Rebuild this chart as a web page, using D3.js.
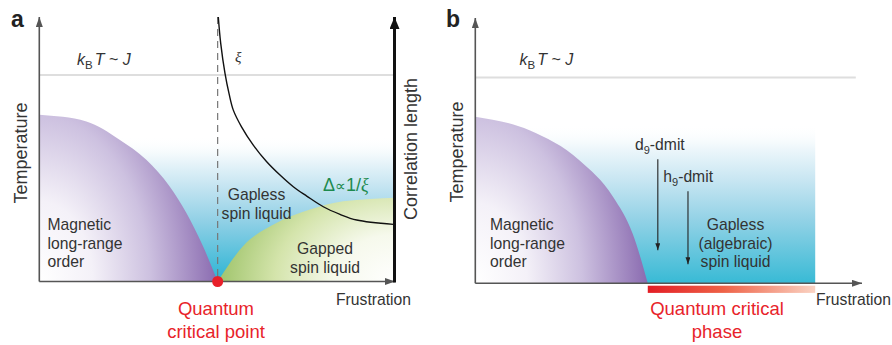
<!DOCTYPE html>
<html>
<head>
<meta charset="utf-8">
<script src="https://cdn.jsdelivr.net/npm/d3@7"></script>
<style>
  html, body { margin: 0; padding: 0; background: #fff; }
  svg { display: block; font-family: "Liberation Sans", Arial, Helvetica, sans-serif; }
</style>
</head>
<body>
<div id="chart"></div>
<script>
// Schematic phase diagrams, both panels in 0-100 units (frustration, temperature)

// panel a
const aMagnetic = [[0, 63], [13.2, 60.5], [22.5, 53.6], [30, 46], [36.5, 36], [41.2, 26], [45.9, 13.3], [50, 0]];
const aGapped = [[50, 0], [57.1, 13.3], [66.6, 22.2], [75.9, 27.2], [85.2, 30.3], [100, 31.7]];
const aCorrelation = [[50.18, 100], [50.86, 90], [52.06, 78.66], [53.18, 71.1], [54.39, 64.79], [56.69, 58.48],
  [59.99, 51.57], [63.75, 45.26], [67.48, 40.23], [71.21, 35.81], [74.97, 32.3], [79.62, 28.26],
  [84.3, 25.39], [88.98, 23.23], [99.24, 21.61]];
const aCritical = 50;
const aThermal = 78.1;
const aLiquidTop = 55;

// panel b
const bMagnetic = [[0, 62.8], [14, 57.7], [26.9, 46.4], [35.6, 32.6], [40.7, 18.7], [44.6, 0]];
const bCriticalPhase = [44.6, 87.9];
const bThermal = 77.6;
const bLiquidTop = 60;
const bSamples = [
  { name: "d", x: 47.2, from: 46.8, to: 12.5 },
  { name: "h", x: 55.0, from: 34.7, to: 7.2 }
];

const width = 892, height = 345;
const ink = "#333";

const svg = d3.select("#chart").append("svg")
  .attr("width", width)
  .attr("height", height);

const defs = svg.append("defs");

function arrowMarker(id, color, w, l) {
  defs.append("marker")
    .attr("id", id)
    .attr("viewBox", `0 ${-w / 2} ${l} ${w}`)
    .attr("refX", l).attr("refY", 0)
    .attr("markerUnits", "userSpaceOnUse")
    .attr("markerWidth", l).attr("markerHeight", w)
    .attr("orient", "auto")
    .append("path")
    .attr("d", `M0,${-w / 2}L${l},0L0,${w / 2}Z`)
    .attr("fill", color);
}
arrowMarker("axisArrow", "#555", 7, 10);
arrowMarker("boldArrow", "#111", 10, 12);
arrowMarker("smallArrow", "#222", 5, 7);

function linear(id, stops, vertical) {
  const g = defs.append("linearGradient").attr("id", id)
    .attr("x1", 0).attr("y1", 0)
    .attr("x2", vertical ? 0 : 1).attr("y2", vertical ? 1 : 0);
  stops.forEach(s => g.append("stop").attr("offset", s[0]).attr("stop-color", s[1]).attr("stop-opacity", s[2] == null ? 1 : s[2]));
}
function radial(id, cx, cy, rx, ry, stops) {
  const g = defs.append("radialGradient").attr("id", id)
    .attr("gradientUnits", "userSpaceOnUse")
    .attr("cx", 0).attr("cy", 0).attr("r", 1)
    .attr("gradientTransform", `translate(${cx},${cy}) scale(${rx},${ry})`);
  stops.forEach(s => g.append("stop").attr("offset", s[0]).attr("stop-color", s[1]));
}

linear("blueA", [[0, "#ffffff", 0], [0.15, "#eef7fb"], [0.35, "#c4e4f1"], [0.6, "#8dcfe5"], [1, "#2bb4d4"]], true);
linear("blueB", [[0, "#ffffff", 0], [0.15, "#eef7fb"], [0.35, "#c8e6f2"], [0.6, "#93d2e6"], [1, "#38bad5"]], true);
linear("redBar", [[0, "#e31d25"], [0.45, "#ee6247"], [1, "#fad3c3"]], false);

function panel(opts) {
  const x = d3.scaleLinear().domain([0, 100]).range(opts.xRange);
  const y = d3.scaleLinear().domain([0, 100]).range(opts.yRange);
  const g = svg.append("g");
  return { x, y, g };
}

function addText(g, str, px, py, size, opts = {}) {
  return g.append("text")
    .attr("x", px).attr("y", py)
    .attr("font-size", size)
    .attr("fill", opts.fill || ink)
    .attr("text-anchor", opts.anchor || "start")
    .attr("font-weight", opts.weight || "normal")
    .attr("font-style", opts.style || "normal")
    .text(str);
}

function thermalLabel(g, px, py) {
  const t = g.append("text").attr("x", px).attr("y", py)
    .attr("font-size", 16).attr("fill", ink);
  t.append("tspan").attr("font-style", "italic").text("k");
  t.append("tspan").attr("font-size", 11.5).attr("dy", 4).text("B");
  t.append("tspan").attr("font-style", "italic").attr("dy", -4).attr("dx", 2).text("T");
  t.append("tspan").text(" ~ ");
  t.append("tspan").attr("font-style", "italic").text("J");
}

function rotated(g, str, px, py, size) {
  g.append("text")
    .attr("transform", `translate(${px},${py}) rotate(-90)`)
    .attr("text-anchor", "middle")
    .attr("font-size", size)
    .attr("fill", ink)
    .text(str);
}

function multiline(g, lines, px, py, size, lh, anchor, fill) {
  lines.forEach((l, i) => addText(g, l, px, py + i * lh, size, { anchor, fill }));
}

// ---------- panel a ----------
{
  const { x, y, g } = panel({ xRange: [39.3, 396], yRange: [281.5, 17] });

  const x0 = x(0), x1 = x(100), yb = y(0);

  // gapless liquid background
  g.append("rect")
    .attr("x", x0).attr("y", y(aLiquidTop))
    .attr("width", x1 - x0).attr("height", yb - y(aLiquidTop))
    .attr("fill", "url(#blueA)");

  // magnetic order dome
  radial("purpleA", x0, yb, x(aCritical) - x0, (yb - y(aMagnetic[0][1])) * 1.6,
    [[0, "#ffffff"], [0.3, "#f4f1f8"], [0.62, "#cdc1e0"], [1, "#8a6bb0"]]);
  const area = d3.area().x(d => x(d[0])).y0(yb).y1(d => y(d[1])).curve(d3.curveMonotoneX);
  g.append("path").datum(aMagnetic).attr("d", area).attr("fill", "url(#purpleA)");

  // gapped liquid
  radial("greenA", x1, yb, x1 - x(aCritical), (yb - y(aGapped[aGapped.length - 1][1])) * 1.6,
    [[0, "#ffffff"], [0.35, "#f6f9ec"], [0.68, "#d4e4ab"], [1, "#9fc46b"]]);
  g.append("path").datum(aGapped).attr("d", area).attr("fill", "url(#greenA)");

  // thermal line
  g.append("line")
    .attr("x1", x0).attr("x2", x1)
    .attr("y1", y(aThermal)).attr("y2", y(aThermal))
    .attr("stroke", "#dedede").attr("stroke-width", 2);

  // dashed critical line
  g.append("line")
    .attr("x1", x(aCritical)).attr("x2", x(aCritical))
    .attr("y1", y(100)).attr("y2", yb)
    .attr("stroke", "#777").attr("stroke-width", 1.2)
    .attr("stroke-dasharray", "7,5");

  // correlation length curve
  g.append("path").datum(aCorrelation)
    .attr("d", d3.line().x(d => x(d[0])).y(d => y(d[1])).curve(d3.curveCatmullRom.alpha(0.5)))
    .attr("fill", "none").attr("stroke", "#111").attr("stroke-width", 1.4);

  // axes
  g.append("line").attr("x1", x0).attr("x2", x0).attr("y1", yb).attr("y2", y(100))
    .attr("stroke", "#555").attr("stroke-width", 1.6).attr("marker-end", "url(#axisArrow)");
  g.append("line").attr("x1", x0).attr("x2", x1 - 1).attr("y1", yb).attr("y2", yb)
    .attr("stroke", "#555").attr("stroke-width", 1.6).attr("marker-end", "url(#axisArrow)");
  g.append("line").attr("x1", x1 - 1.5).attr("x2", x1 - 1.5).attr("y1", yb + 1).attr("y2", y(100))
    .attr("stroke", "#111").attr("stroke-width", 3).attr("marker-end", "url(#boldArrow)");

  // critical point
  g.append("circle").attr("cx", x(aCritical)).attr("cy", yb).attr("r", 5.5).attr("fill", "#e8202a");

  // labels
  addText(g, "a", 11, 27, 23, { weight: "bold", fill: "#222" });
  thermalLabel(g, 77, 65);
  g.append("text").attr("x", 235).attr("y", 62).attr("font-size", 15)
    .attr("font-family", "'Liberation Serif', serif").attr("font-style", "italic")
    .attr("fill", ink).text("ξ");
  rotated(g, "Temperature", 27, 153, 18);
  rotated(g, "Correlation length", 417, 149, 18);
  addText(g, "Frustration", 336, 304.5, 15.7);
  multiline(g, ["Magnetic", "long-range", "order"], 47.5, 230, 15.7, 18.5);
  multiline(g, ["Gapless", "spin liquid"], 256.5, 199.5, 15.7, 19, "middle");
  multiline(g, ["Gapped", "spin liquid"], 325, 253.5, 15.7, 19.5, "middle");
  const delta = g.append("text").attr("x", 323).attr("y", 191).attr("font-size", 18).attr("fill", "#1d8a4e");
  delta.append("tspan").text("Δ");
  delta.append("tspan").attr("font-size", 15).text("∝");
  delta.append("tspan").text("1/");
  delta.append("tspan").attr("font-family", "'Liberation Serif', serif").attr("font-style", "italic").text("ξ");
  multiline(g, ["Quantum", "critical point"], 216, 315, 18.5, 22.5, "middle", "#e8232a");
}

// ---------- panel b ----------
{
  const { x, y, g } = panel({ xRange: [475.3, 862], yRange: [283.3, 18] });

  const x0 = x(0), yb = y(0);
  const xEnd = x(bCriticalPhase[1]);

  g.append("rect")
    .attr("x", x0).attr("y", y(bLiquidTop))
    .attr("width", xEnd - x0).attr("height", yb - y(bLiquidTop))
    .attr("fill", "url(#blueB)");

  radial("purpleB", x0, yb, x(bCriticalPhase[0]) - x0, (yb - y(bMagnetic[0][1])) * 1.6,
    [[0, "#ffffff"], [0.3, "#f4f1f8"], [0.62, "#cdc1e0"], [1, "#8a6bb0"]]);
  const area = d3.area().x(d => x(d[0])).y0(yb).y1(d => y(d[1])).curve(d3.curveMonotoneX);
  g.append("path").datum(bMagnetic).attr("d", area).attr("fill", "url(#purpleB)");

  g.append("line")
    .attr("x1", x0).attr("x2", x(98.4))
    .attr("y1", y(bThermal)).attr("y2", y(bThermal))
    .attr("stroke", "#dedede").attr("stroke-width", 2);

  // critical phase bar under the axis
  g.append("rect")
    .attr("x", x(bCriticalPhase[0])).attr("y", yb + 2.4)
    .attr("width", xEnd - x(bCriticalPhase[0])).attr("height", 7.2)
    .attr("fill", "url(#redBar)");

  // sample arrows
  bSamples.forEach(s => {
    g.append("line")
      .attr("x1", x(s.x)).attr("x2", x(s.x))
      .attr("y1", y(s.from)).attr("y2", y(s.to))
      .attr("stroke", "#222").attr("stroke-width", 1.1)
      .attr("marker-end", "url(#smallArrow)");
  });

  g.append("line").attr("x1", x0).attr("x2", x0).attr("y1", yb).attr("y2", y(100))
    .attr("stroke", "#555").attr("stroke-width", 1.6).attr("marker-end", "url(#axisArrow)");
  g.append("line").attr("x1", x0).attr("x2", x(100)).attr("y1", yb).attr("y2", yb)
    .attr("stroke", "#555").attr("stroke-width", 1.6).attr("marker-end", "url(#axisArrow)");

  addText(g, "b", 446, 27, 23, { weight: "bold", fill: "#222" });
  thermalLabel(g, 519.5, 65);
  rotated(g, "Temperature", 462.5, 152, 18);
  addText(g, "Frustration", 816, 304.5, 15.7);
  multiline(g, ["Magnetic", "long-range", "order"], 490, 230, 15.7, 18.5);
  multiline(g, ["Gapless", "(algebraic)", "spin liquid"], 735.5, 230, 15.7, 18.5, "middle");

  const sampleLabels = [[635, 150], [663.3, 181.5]];
  bSamples.forEach((s, i) => {
    const t = g.append("text").attr("x", sampleLabels[i][0]).attr("y", sampleLabels[i][1])
      .attr("font-size", 15.7).attr("fill", ink);
    t.append("tspan").text(s.name);
    t.append("tspan").attr("font-size", 11).attr("dy", 4).text("9");
    t.append("tspan").attr("dy", -4).text("-dmit");
  });

  multiline(g, ["Quantum critical", "phase"], 717, 315, 18.5, 22.5, "middle", "#e8232a");
}
</script>
</body>
</html>
